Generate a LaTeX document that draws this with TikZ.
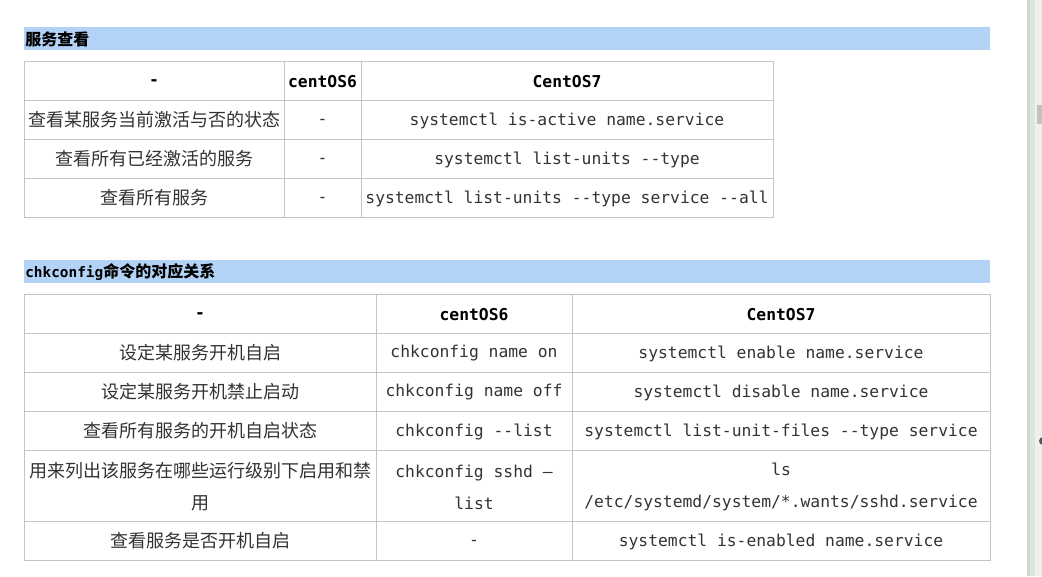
\documentclass[tikz,border=0pt]{standalone}
\usepackage{fontspec}
\setmonofont{DejaVu Sans Mono}
\newfontfamily\cjk{Noto Sans CJK SC}
\definecolor{bandblue}{HTML}{B2D3F5}
\definecolor{rulegray}{HTML}{C4C4C4}
\definecolor{cellink}{HTML}{333333}
\definecolor{barA}{HTML}{CDDACF}
\definecolor{barB}{HTML}{DDE7DE}
\definecolor{barC}{HTML}{EFEFEF}
\definecolor{thumb}{HTML}{C1C1C1}
\definecolor{dotink}{HTML}{4D5A66}
\newcommand{\nodash}{\vphantom{Ay}-}
\tikzset{
  zh/.style={font=\cjk\fontsize{13.5}{24}\selectfont, text=cellink, inner sep=0pt, align=center},
  cmd/.style={font=\ttfamily\fontsize{12.25}{24}\selectfont, text=cellink, inner sep=0pt, align=center},
  hd/.style={font=\ttfamily\bfseries\fontsize{12.25}{15}\selectfont, inner sep=0pt},
  band/.style={fill=bandblue, draw=none},
  grid/.style={draw=rulegray, line width=0.75pt}
}

\begin{document}
\begin{tikzpicture}[x=0.75pt,y=-0.75pt]
            \useasboundingbox (0,0) rectangle (1042,576);
            \fill[white] (0,0) rectangle (1042,576);

            % scroll bar at the right edge
            \fill[barA] (1027,0) rectangle (1030,576);
            \fill[barB] (1030,0) rectangle (1035,576);
            \fill[barC] (1035,0) rectangle (1042,576);
            \fill[thumb] (1037,105) rectangle (1042,124);
            \fill[dotink] (1043,441) circle (4);

            % first section
            \path[band] (24,27) rectangle (990,50);
            \node[anchor=west, inner sep=0pt, font=\cjk\bfseries\fontsize{12}{14}\selectfont] (title1) at (25,39) {服务查看};

            \draw[grid] (24,61) rectangle (773,217);
            \draw[grid] (24,100) -- (773,100);
            \draw[grid] (24,139) -- (773,139);
            \draw[grid] (24,178) -- (773,178);
            \draw[grid] (284,61) -- (284,217);
            \draw[grid] (361,61) -- (361,217);

            \node[hd] (a0) at (154,81.5) {\nodash};
            \node[hd] (b0) at (322.5,81.5) {centOS6};
            \node[hd] (c0) at (567,81.5) {CentOS7};

            \node[zh] (a1) at (154,120) {查看某服务当前激活与否的状态};
            \node[cmd] (b1) at (322.5,120.5) {\nodash};
            \node[cmd] (c1) at (567,120.5) {systemctl is-active name.service};

            \node[zh] (a2) at (154,159) {查看所有已经激活的服务};
            \node[cmd] (b2) at (322.5,159.5) {\nodash};
            \node[cmd] (c2) at (567,159.5) {systemctl list-units --type};

            \node[zh] (a3) at (154,198) {查看所有服务};
            \node[cmd] (b3) at (322.5,198.5) {\nodash};
            \node[cmd] (c3) at (567,198.5) {systemctl list-units --type service --all};

            % second section
            \path[band] (24,260) rectangle (990,283);
            \node[anchor=west, inner sep=0pt] (title2) at (25,271.5)
                {{\ttfamily\bfseries\fontsize{10.8}{14}\selectfont chkconfig}{\cjk\bfseries\fontsize{12}{14}\selectfont 命令的对应关系}};

            \draw[grid] (24,294) rectangle (990,560);
            \draw[grid] (24,333) -- (990,333);
            \draw[grid] (24,372) -- (990,372);
            \draw[grid] (24,411) -- (990,411);
            \draw[grid] (24,450) -- (990,450);
            \draw[grid] (24,521) -- (990,521);
            \draw[grid] (376,294) -- (376,560);
            \draw[grid] (572,294) -- (572,560);

            \node[hd] (p0) at (200,314.5) {\nodash};
            \node[hd] (q0) at (474,314.5) {centOS6};
            \node[hd] (r0) at (781,314.5) {CentOS7};

            \node[zh] (p1) at (200,353) {设定某服务开机自启};
            \node[cmd] (q1) at (474,353.5) {chkconfig name on};
            \node[cmd] (r1) at (781,353.5) {systemctl enable name.service};

            \node[zh] (p2) at (200,392) {设定某服务开机禁止启动};
            \node[cmd] (q2) at (474,392.5) {chkconfig name off};
            \node[cmd] (r2) at (781,392.5) {systemctl disable name.service};

            \node[zh] (p3) at (200,431) {查看所有服务的开机自启状态};
            \node[cmd] (q3) at (474,431.5) {chkconfig --list};
            \node[cmd] (r3) at (781,431.5) {systemctl list-unit-files --type service};

            \node[zh] (p4) at (200,486.5) {用来列出该服务在哪些运行级别下启用和禁\\用};
            \node[cmd] (q4) at (474,487) {chkconfig sshd –\\list};
            \node[cmd] (r4) at (781,487) {ls\\/etc/systemd/system/*.wants/sshd.service};

            \node[zh] (p5) at (200,541) {查看服务是否开机自启};
            \node[cmd] (q5) at (474,541.5) {\nodash};
            \node[cmd] (r5) at (781,541.5) {systemctl is-enabled name.service};

        \end{tikzpicture}
\end{document}
